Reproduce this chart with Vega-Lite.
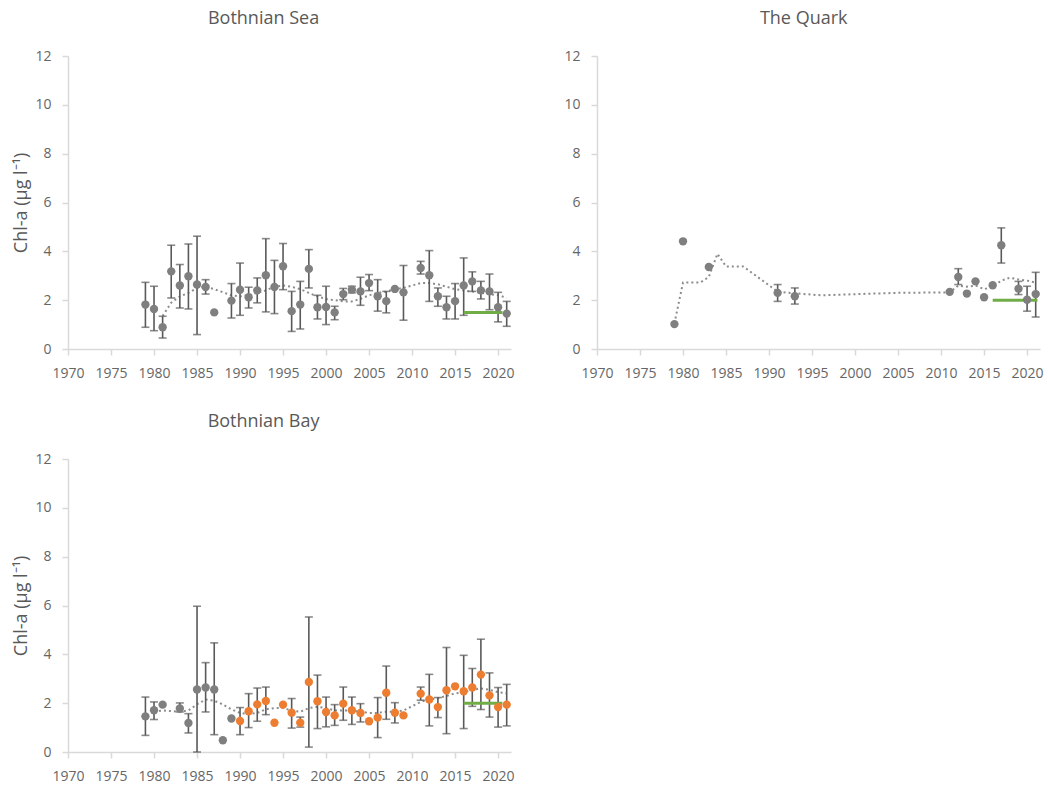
{
  "$schema": "https://vega.github.io/schema/vega-lite/v6.json",
  "padding": {"left": 12, "top": 10, "right": 5, "bottom": 5},
  "background": "white",
  "config": {
    "view": {"stroke": null},
    "font": "Open Sans",
    "axis": {"domainColor": "#d9d9d9", "domainWidth": 1.5, "tickColor": "#d9d9d9", "tickWidth": 1.5, "tickSize": 6, "labelColor": "#666666", "labelFont": "Open Sans", "labelFontSize": 14, "grid": false, "titleFont": "Open Sans", "titleFontSize": 18, "titleFontWeight": "normal", "titleColor": "#595959", "titlePadding": 4, "labelOverlap": false, "labelFlush": false},
    "axisX": {"labelPadding": 11},
    "axisY": {"labelPadding": 11},
    "title": {"font": "Open Sans", "fontSize": 18, "fontWeight": "normal", "color": "#595959", "anchor": "middle", "frame": "bounds", "offset": 21}
  },
  "datasets": {
    "pts": [
      {"area": "Bothnian Sea", "year": 1979, "chl": 1.82, "lo": 0.89, "hi": 2.73, "grp": "g"},
      {"area": "Bothnian Sea", "year": 1980, "chl": 1.64, "lo": 0.75, "hi": 2.57, "grp": "g"},
      {"area": "Bothnian Sea", "year": 1981, "chl": 0.89, "lo": 0.45, "hi": 1.34, "grp": "g"},
      {"area": "Bothnian Sea", "year": 1982, "chl": 3.18, "lo": 2.09, "hi": 4.25, "grp": "g"},
      {"area": "Bothnian Sea", "year": 1983, "chl": 2.6, "lo": 1.68, "hi": 3.46, "grp": "g"},
      {"area": "Bothnian Sea", "year": 1984, "chl": 2.98, "lo": 1.64, "hi": 4.3, "grp": "g"},
      {"area": "Bothnian Sea", "year": 1985, "chl": 2.64, "lo": 0.59, "hi": 4.62, "grp": "g"},
      {"area": "Bothnian Sea", "year": 1986, "chl": 2.54, "lo": 2.25, "hi": 2.84, "grp": "g"},
      {"area": "Bothnian Sea", "year": 1987, "chl": 1.5, "lo": null, "hi": null, "grp": "g"},
      {"area": "Bothnian Sea", "year": 1989, "chl": 1.98, "lo": 1.27, "hi": 2.68, "grp": "g"},
      {"area": "Bothnian Sea", "year": 1990, "chl": 2.43, "lo": 1.38, "hi": 3.52, "grp": "g"},
      {"area": "Bothnian Sea", "year": 1991, "chl": 2.12, "lo": 1.68, "hi": 2.53, "grp": "g"},
      {"area": "Bothnian Sea", "year": 1992, "chl": 2.4, "lo": 1.89, "hi": 2.91, "grp": "g"},
      {"area": "Bothnian Sea", "year": 1993, "chl": 3.02, "lo": 1.52, "hi": 4.52, "grp": "g"},
      {"area": "Bothnian Sea", "year": 1994, "chl": 2.54, "lo": 1.45, "hi": 3.63, "grp": "g"},
      {"area": "Bothnian Sea", "year": 1995, "chl": 3.39, "lo": 2.43, "hi": 4.32, "grp": "g"},
      {"area": "Bothnian Sea", "year": 1996, "chl": 1.55, "lo": 0.72, "hi": 2.36, "grp": "g"},
      {"area": "Bothnian Sea", "year": 1997, "chl": 1.82, "lo": 0.82, "hi": 2.77, "grp": "g"},
      {"area": "Bothnian Sea", "year": 1998, "chl": 3.28, "lo": 2.5, "hi": 4.07, "grp": "g"},
      {"area": "Bothnian Sea", "year": 1999, "chl": 1.71, "lo": 1.23, "hi": 2.2, "grp": "g"},
      {"area": "Bothnian Sea", "year": 2000, "chl": 1.72, "lo": 1.0, "hi": 2.57, "grp": "g"},
      {"area": "Bothnian Sea", "year": 2001, "chl": 1.5, "lo": 1.2, "hi": 1.75, "grp": "g"},
      {"area": "Bothnian Sea", "year": 2002, "chl": 2.25, "lo": 2.02, "hi": 2.48, "grp": "g"},
      {"area": "Bothnian Sea", "year": 2003, "chl": 2.43, "lo": 2.3, "hi": 2.57, "grp": "g"},
      {"area": "Bothnian Sea", "year": 2004, "chl": 2.36, "lo": 1.79, "hi": 2.94, "grp": "g"},
      {"area": "Bothnian Sea", "year": 2005, "chl": 2.7, "lo": 2.39, "hi": 3.05, "grp": "g"},
      {"area": "Bothnian Sea", "year": 2006, "chl": 2.16, "lo": 1.55, "hi": 2.84, "grp": "g"},
      {"area": "Bothnian Sea", "year": 2007, "chl": 1.96, "lo": 1.48, "hi": 2.36, "grp": "g"},
      {"area": "Bothnian Sea", "year": 2008, "chl": 2.46, "lo": null, "hi": null, "grp": "g"},
      {"area": "Bothnian Sea", "year": 2009, "chl": 2.32, "lo": 1.18, "hi": 3.42, "grp": "g"},
      {"area": "Bothnian Sea", "year": 2011, "chl": 3.32, "lo": 3.07, "hi": 3.59, "grp": "g"},
      {"area": "Bothnian Sea", "year": 2012, "chl": 3.02, "lo": 1.95, "hi": 4.03, "grp": "g"},
      {"area": "Bothnian Sea", "year": 2013, "chl": 2.16, "lo": 1.75, "hi": 2.5, "grp": "g"},
      {"area": "Bothnian Sea", "year": 2014, "chl": 1.71, "lo": 1.23, "hi": 2.16, "grp": "g"},
      {"area": "Bothnian Sea", "year": 2015, "chl": 1.96, "lo": 1.23, "hi": 2.68, "grp": "g"},
      {"area": "Bothnian Sea", "year": 2016, "chl": 2.6, "lo": 1.38, "hi": 3.73, "grp": "g"},
      {"area": "Bothnian Sea", "year": 2017, "chl": 2.77, "lo": 2.36, "hi": 3.16, "grp": "g"},
      {"area": "Bothnian Sea", "year": 2018, "chl": 2.4, "lo": 2.05, "hi": 2.77, "grp": "g"},
      {"area": "Bothnian Sea", "year": 2019, "chl": 2.36, "lo": 1.61, "hi": 3.07, "grp": "g"},
      {"area": "Bothnian Sea", "year": 2020, "chl": 1.71, "lo": 1.11, "hi": 2.32, "grp": "g"},
      {"area": "Bothnian Sea", "year": 2021, "chl": 1.45, "lo": 0.93, "hi": 1.95, "grp": "g"},

      {"area": "The Quark", "year": 1979, "chl": 1.02, "lo": null, "hi": null, "grp": "g"},
      {"area": "The Quark", "year": 1980, "chl": 4.41, "lo": null, "hi": null, "grp": "g"},
      {"area": "The Quark", "year": 1983, "chl": 3.36, "lo": null, "hi": null, "grp": "g"},
      {"area": "The Quark", "year": 1991, "chl": 2.3, "lo": 1.95, "hi": 2.64, "grp": "g"},
      {"area": "The Quark", "year": 1993, "chl": 2.16, "lo": 1.84, "hi": 2.5, "grp": "g"},
      {"area": "The Quark", "year": 2011, "chl": 2.34, "lo": null, "hi": null, "grp": "g"},
      {"area": "The Quark", "year": 2012, "chl": 2.95, "lo": 2.64, "hi": 3.29, "grp": "g"},
      {"area": "The Quark", "year": 2013, "chl": 2.27, "lo": null, "hi": null, "grp": "g"},
      {"area": "The Quark", "year": 2014, "chl": 2.77, "lo": null, "hi": null, "grp": "g"},
      {"area": "The Quark", "year": 2015, "chl": 2.12, "lo": null, "hi": null, "grp": "g"},
      {"area": "The Quark", "year": 2016, "chl": 2.61, "lo": null, "hi": null, "grp": "g"},
      {"area": "The Quark", "year": 2017, "chl": 4.25, "lo": 3.52, "hi": 4.96, "grp": "g"},
      {"area": "The Quark", "year": 2019, "chl": 2.47, "lo": 2.23, "hi": 2.77, "grp": "g"},
      {"area": "The Quark", "year": 2020, "chl": 2.02, "lo": 1.55, "hi": 2.57, "grp": "g"},
      {"area": "The Quark", "year": 2021, "chl": 2.25, "lo": 1.31, "hi": 3.14, "grp": "g"},

      {"area": "Bothnian Bay", "year": 1979, "chl": 1.46, "lo": 0.68, "hi": 2.25, "grp": "g"},
      {"area": "Bothnian Bay", "year": 1980, "chl": 1.71, "lo": 1.33, "hi": 2.05, "grp": "g"},
      {"area": "Bothnian Bay", "year": 1981, "chl": 1.94, "lo": null, "hi": null, "grp": "g"},
      {"area": "Bothnian Bay", "year": 1983, "chl": 1.78, "lo": 1.64, "hi": 2.01, "grp": "g"},
      {"area": "Bothnian Bay", "year": 1984, "chl": 1.19, "lo": 0.78, "hi": 1.57, "grp": "g"},
      {"area": "Bothnian Bay", "year": 1985, "chl": 2.56, "lo": 0.0, "hi": 5.97, "grp": "g"},
      {"area": "Bothnian Bay", "year": 1986, "chl": 2.64, "lo": 1.64, "hi": 3.66, "grp": "g"},
      {"area": "Bothnian Bay", "year": 1987, "chl": 2.56, "lo": 0.71, "hi": 4.47, "grp": "g"},
      {"area": "Bothnian Bay", "year": 1988, "chl": 0.48, "lo": null, "hi": null, "grp": "g"},
      {"area": "Bothnian Bay", "year": 1989, "chl": 1.37, "lo": null, "hi": null, "grp": "g"},
      {"area": "Bothnian Bay", "year": 1990, "chl": 1.27, "lo": 0.71, "hi": 1.82, "grp": "o"},
      {"area": "Bothnian Bay", "year": 1991, "chl": 1.67, "lo": 1.0, "hi": 2.39, "grp": "o"},
      {"area": "Bothnian Bay", "year": 1992, "chl": 1.95, "lo": 1.26, "hi": 2.62, "grp": "o"},
      {"area": "Bothnian Bay", "year": 1993, "chl": 2.09, "lo": 1.53, "hi": 2.66, "grp": "o"},
      {"area": "Bothnian Bay", "year": 1994, "chl": 1.2, "lo": null, "hi": null, "grp": "o"},
      {"area": "Bothnian Bay", "year": 1995, "chl": 1.94, "lo": null, "hi": null, "grp": "o"},
      {"area": "Bothnian Bay", "year": 1996, "chl": 1.61, "lo": 0.98, "hi": 2.19, "grp": "o"},
      {"area": "Bothnian Bay", "year": 1997, "chl": 1.2, "lo": 1.02, "hi": 1.43, "grp": "o"},
      {"area": "Bothnian Bay", "year": 1998, "chl": 2.87, "lo": 0.2, "hi": 5.53, "grp": "o"},
      {"area": "Bothnian Bay", "year": 1999, "chl": 2.08, "lo": 0.96, "hi": 3.15, "grp": "o"},
      {"area": "Bothnian Bay", "year": 2000, "chl": 1.64, "lo": 1.03, "hi": 2.25, "grp": "o"},
      {"area": "Bothnian Bay", "year": 2001, "chl": 1.5, "lo": 1.09, "hi": 1.94, "grp": "o"},
      {"area": "Bothnian Bay", "year": 2002, "chl": 1.98, "lo": 1.3, "hi": 2.66, "grp": "o"},
      {"area": "Bothnian Bay", "year": 2003, "chl": 1.71, "lo": 1.13, "hi": 2.25, "grp": "o"},
      {"area": "Bothnian Bay", "year": 2004, "chl": 1.6, "lo": 1.23, "hi": 1.98, "grp": "o"},
      {"area": "Bothnian Bay", "year": 2005, "chl": 1.26, "lo": null, "hi": null, "grp": "o"},
      {"area": "Bothnian Bay", "year": 2006, "chl": 1.41, "lo": 0.59, "hi": 2.23, "grp": "o"},
      {"area": "Bothnian Bay", "year": 2007, "chl": 2.43, "lo": 1.34, "hi": 3.52, "grp": "o"},
      {"area": "Bothnian Bay", "year": 2008, "chl": 1.61, "lo": 1.19, "hi": 2.02, "grp": "o"},
      {"area": "Bothnian Bay", "year": 2009, "chl": 1.5, "lo": null, "hi": null, "grp": "o"},
      {"area": "Bothnian Bay", "year": 2011, "chl": 2.39, "lo": 2.12, "hi": 2.66, "grp": "o"},
      {"area": "Bothnian Bay", "year": 2012, "chl": 2.15, "lo": 1.07, "hi": 3.18, "grp": "o"},
      {"area": "Bothnian Bay", "year": 2013, "chl": 1.84, "lo": 1.41, "hi": 2.23, "grp": "o"},
      {"area": "Bothnian Bay", "year": 2014, "chl": 2.53, "lo": 0.75, "hi": 4.28, "grp": "o"},
      {"area": "Bothnian Bay", "year": 2015, "chl": 2.69, "lo": null, "hi": null, "grp": "o"},
      {"area": "Bothnian Bay", "year": 2016, "chl": 2.49, "lo": 0.96, "hi": 3.96, "grp": "o"},
      {"area": "Bothnian Bay", "year": 2017, "chl": 2.64, "lo": 1.87, "hi": 3.42, "grp": "o"},
      {"area": "Bothnian Bay", "year": 2018, "chl": 3.17, "lo": 1.74, "hi": 4.62, "grp": "o"},
      {"area": "Bothnian Bay", "year": 2019, "chl": 2.32, "lo": 1.43, "hi": 3.24, "grp": "o"},
      {"area": "Bothnian Bay", "year": 2020, "chl": 1.84, "lo": 1.02, "hi": 2.64, "grp": "o"},
      {"area": "Bothnian Bay", "year": 2021, "chl": 1.94, "lo": 1.07, "hi": 2.77, "grp": "o"}
    ],
    "trend": [
      {"area": "Bothnian Sea", "year": 1981, "chl": 1.35},
      {"area": "Bothnian Sea", "year": 1982, "chl": 1.9},
      {"area": "Bothnian Sea", "year": 1983, "chl": 2.15},
      {"area": "Bothnian Sea", "year": 1984, "chl": 2.3},
      {"area": "Bothnian Sea", "year": 1985, "chl": 2.5},
      {"area": "Bothnian Sea", "year": 1986, "chl": 2.55},
      {"area": "Bothnian Sea", "year": 1987, "chl": 2.45},
      {"area": "Bothnian Sea", "year": 1989, "chl": 2.2},
      {"area": "Bothnian Sea", "year": 1990, "chl": 2.15},
      {"area": "Bothnian Sea", "year": 1991, "chl": 2.2},
      {"area": "Bothnian Sea", "year": 1992, "chl": 2.3},
      {"area": "Bothnian Sea", "year": 1993, "chl": 2.4},
      {"area": "Bothnian Sea", "year": 1994, "chl": 2.55},
      {"area": "Bothnian Sea", "year": 1995, "chl": 2.6},
      {"area": "Bothnian Sea", "year": 1996, "chl": 2.55},
      {"area": "Bothnian Sea", "year": 1997, "chl": 2.45},
      {"area": "Bothnian Sea", "year": 1998, "chl": 2.3},
      {"area": "Bothnian Sea", "year": 1999, "chl": 2.15},
      {"area": "Bothnian Sea", "year": 2000, "chl": 2.05},
      {"area": "Bothnian Sea", "year": 2001, "chl": 2.0},
      {"area": "Bothnian Sea", "year": 2002, "chl": 1.95},
      {"area": "Bothnian Sea", "year": 2003, "chl": 1.95},
      {"area": "Bothnian Sea", "year": 2004, "chl": 2.05},
      {"area": "Bothnian Sea", "year": 2005, "chl": 2.2},
      {"area": "Bothnian Sea", "year": 2006, "chl": 2.3},
      {"area": "Bothnian Sea", "year": 2007, "chl": 2.35},
      {"area": "Bothnian Sea", "year": 2008, "chl": 2.45},
      {"area": "Bothnian Sea", "year": 2009, "chl": 2.5},
      {"area": "Bothnian Sea", "year": 2011, "chl": 2.7},
      {"area": "Bothnian Sea", "year": 2012, "chl": 2.7},
      {"area": "Bothnian Sea", "year": 2013, "chl": 2.65},
      {"area": "Bothnian Sea", "year": 2014, "chl": 2.55},
      {"area": "Bothnian Sea", "year": 2015, "chl": 2.45},
      {"area": "Bothnian Sea", "year": 2016, "chl": 2.4},
      {"area": "Bothnian Sea", "year": 2017, "chl": 2.35},
      {"area": "Bothnian Sea", "year": 2018, "chl": 2.3},
      {"area": "Bothnian Sea", "year": 2019, "chl": 2.25},
      {"area": "Bothnian Sea", "year": 2020, "chl": 2.2},
      {"area": "Bothnian Sea", "year": 2021, "chl": 2.1},

      {"area": "The Quark", "year": 1979, "chl": 1.05},
      {"area": "The Quark", "year": 1980, "chl": 2.72},
      {"area": "The Quark", "year": 1982, "chl": 2.72},
      {"area": "The Quark", "year": 1983, "chl": 2.95},
      {"area": "The Quark", "year": 1984, "chl": 3.9},
      {"area": "The Quark", "year": 1985, "chl": 3.38},
      {"area": "The Quark", "year": 1987, "chl": 3.38},
      {"area": "The Quark", "year": 1991, "chl": 2.35},
      {"area": "The Quark", "year": 1993, "chl": 2.28},
      {"area": "The Quark", "year": 1996, "chl": 2.2},
      {"area": "The Quark", "year": 2005, "chl": 2.3},
      {"area": "The Quark", "year": 2011, "chl": 2.32},
      {"area": "The Quark", "year": 2012, "chl": 2.6},
      {"area": "The Quark", "year": 2013, "chl": 2.55},
      {"area": "The Quark", "year": 2014, "chl": 2.6},
      {"area": "The Quark", "year": 2015, "chl": 2.45},
      {"area": "The Quark", "year": 2016, "chl": 2.55},
      {"area": "The Quark", "year": 2017, "chl": 2.8},
      {"area": "The Quark", "year": 2018, "chl": 2.92},
      {"area": "The Quark", "year": 2019, "chl": 2.85},
      {"area": "The Quark", "year": 2020, "chl": 2.8},
      {"area": "The Quark", "year": 2021, "chl": 2.72},

      {"area": "Bothnian Bay", "year": 1980, "chl": 1.65},
      {"area": "Bothnian Bay", "year": 1981, "chl": 1.7},
      {"area": "Bothnian Bay", "year": 1983, "chl": 1.65},
      {"area": "Bothnian Bay", "year": 1984, "chl": 1.7},
      {"area": "Bothnian Bay", "year": 1985, "chl": 1.95},
      {"area": "Bothnian Bay", "year": 1986, "chl": 2.15},
      {"area": "Bothnian Bay", "year": 1987, "chl": 2.1},
      {"area": "Bothnian Bay", "year": 1988, "chl": 1.95},
      {"area": "Bothnian Bay", "year": 1989, "chl": 1.75},
      {"area": "Bothnian Bay", "year": 1990, "chl": 1.6},
      {"area": "Bothnian Bay", "year": 1991, "chl": 1.55},
      {"area": "Bothnian Bay", "year": 1992, "chl": 1.6},
      {"area": "Bothnian Bay", "year": 1993, "chl": 1.75},
      {"area": "Bothnian Bay", "year": 1994, "chl": 1.8},
      {"area": "Bothnian Bay", "year": 1995, "chl": 1.8},
      {"area": "Bothnian Bay", "year": 1996, "chl": 1.7},
      {"area": "Bothnian Bay", "year": 1997, "chl": 1.65},
      {"area": "Bothnian Bay", "year": 1998, "chl": 1.8},
      {"area": "Bothnian Bay", "year": 1999, "chl": 1.85},
      {"area": "Bothnian Bay", "year": 2000, "chl": 1.8},
      {"area": "Bothnian Bay", "year": 2001, "chl": 1.7},
      {"area": "Bothnian Bay", "year": 2002, "chl": 1.7},
      {"area": "Bothnian Bay", "year": 2003, "chl": 1.7},
      {"area": "Bothnian Bay", "year": 2004, "chl": 1.65},
      {"area": "Bothnian Bay", "year": 2005, "chl": 1.6},
      {"area": "Bothnian Bay", "year": 2006, "chl": 1.6},
      {"area": "Bothnian Bay", "year": 2007, "chl": 1.65},
      {"area": "Bothnian Bay", "year": 2008, "chl": 1.65},
      {"area": "Bothnian Bay", "year": 2009, "chl": 1.7},
      {"area": "Bothnian Bay", "year": 2011, "chl": 2.05},
      {"area": "Bothnian Bay", "year": 2012, "chl": 2.15},
      {"area": "Bothnian Bay", "year": 2013, "chl": 2.2},
      {"area": "Bothnian Bay", "year": 2014, "chl": 2.3},
      {"area": "Bothnian Bay", "year": 2015, "chl": 2.4},
      {"area": "Bothnian Bay", "year": 2016, "chl": 2.45},
      {"area": "Bothnian Bay", "year": 2017, "chl": 2.55},
      {"area": "Bothnian Bay", "year": 2018, "chl": 2.6},
      {"area": "Bothnian Bay", "year": 2019, "chl": 2.55},
      {"area": "Bothnian Bay", "year": 2020, "chl": 2.45},
      {"area": "Bothnian Bay", "year": 2021, "chl": 2.4}
    ],
    "target": [
      {"area": "Bothnian Sea", "year": 2016, "chl": 1.5},
      {"area": "Bothnian Sea", "year": 2020.5, "chl": 1.5},
      {"area": "The Quark", "year": 2016, "chl": 2.0},
      {"area": "The Quark", "year": 2021.2, "chl": 2.0},
      {"area": "Bothnian Bay", "year": 2016, "chl": 2.0},
      {"area": "Bothnian Bay", "year": 2020.5, "chl": 2.0}
    ]
  },
  "columns": 2,
  "spacing": {"row": 33, "column": 48},
  "concat": [
    {
      "title": "Bothnian Sea",
      "width": 443, "height": 293,
      "layer": [
        {"data": {"name": "trend"}, "transform": [{"filter": "datum.area == 'Bothnian Sea'"}],
         "mark": {"type": "line", "strokeDash": [2, 3], "color": "#8c8c8c", "strokeWidth": 2},
         "encoding": {
           "x": {"field": "year", "type": "quantitative", "scale": {"domain": [1970, 2021.5], "nice": false, "zero": false}, "axis": {"values": [1970,1975,1980,1985,1990,1995,2000,2005,2010,2015,2020], "format": "d", "title": null}},
           "y": {"field": "chl", "type": "quantitative", "scale": {"domain": [0, 12], "nice": false}, "axis": {"values": [0,2,4,6,8,10,12], "title": "Chl-a (µg l⁻¹)"}}}},
        {"data": {"name": "pts"}, "transform": [{"filter": "datum.area == 'Bothnian Sea' && isValid(datum.lo)"}],
         "mark": {"type": "rule", "color": "#595959", "strokeWidth": 1.6},
         "encoding": {"x": {"field": "year", "type": "quantitative"}, "y": {"field": "lo", "type": "quantitative", "axis": {"title": "Chl-a (µg l⁻¹)"}}, "y2": {"field": "hi"}}},
        {"data": {"name": "pts"}, "transform": [{"filter": "datum.area == 'Bothnian Sea' && isValid(datum.lo)"}],
         "mark": {"type": "tick", "orient": "horizontal", "size": 8, "thickness": 1.6, "color": "#595959"},
         "encoding": {"x": {"field": "year", "type": "quantitative"}, "y": {"field": "lo", "type": "quantitative", "axis": {"title": "Chl-a (µg l⁻¹)"}}}},
        {"data": {"name": "pts"}, "transform": [{"filter": "datum.area == 'Bothnian Sea' && isValid(datum.hi)"}],
         "mark": {"type": "tick", "orient": "horizontal", "size": 8, "thickness": 1.6, "color": "#595959"},
         "encoding": {"x": {"field": "year", "type": "quantitative"}, "y": {"field": "hi", "type": "quantitative", "axis": {"title": "Chl-a (µg l⁻¹)"}}}},
        {"data": {"name": "target"}, "transform": [{"filter": "datum.area == 'Bothnian Sea'"}],
         "mark": {"type": "line", "color": "#70AD47", "strokeWidth": 3},
         "encoding": {"x": {"field": "year", "type": "quantitative"}, "y": {"field": "chl", "type": "quantitative", "axis": {"title": "Chl-a (µg l⁻¹)"}}}},
        {"data": {"name": "pts"}, "transform": [{"filter": "datum.area == 'Bothnian Sea'"}],
         "mark": {"type": "circle", "size": 70, "opacity": 1},
         "encoding": {"x": {"field": "year", "type": "quantitative"}, "y": {"field": "chl", "type": "quantitative", "axis": {"title": "Chl-a (µg l⁻¹)"}},
           "color": {"field": "grp", "type": "nominal", "scale": {"domain": ["g", "o"], "range": ["#7f7f7f", "#ED7D31"]}, "legend": null}}}
      ]
    },
    {
      "title": "The Quark",
      "width": 443, "height": 293,
      "layer": [
        {"data": {"name": "trend"}, "transform": [{"filter": "datum.area == 'The Quark'"}],
         "mark": {"type": "line", "strokeDash": [2, 3], "color": "#8c8c8c", "strokeWidth": 2},
         "encoding": {
           "x": {"field": "year", "type": "quantitative", "scale": {"domain": [1970, 2021.5], "nice": false, "zero": false}, "axis": {"values": [1970,1975,1980,1985,1990,1995,2000,2005,2010,2015,2020], "format": "d", "title": null}},
           "y": {"field": "chl", "type": "quantitative", "scale": {"domain": [0, 12], "nice": false}, "axis": {"values": [0,2,4,6,8,10,12], "title": null}}}},
        {"data": {"name": "pts"}, "transform": [{"filter": "datum.area == 'The Quark' && isValid(datum.lo)"}],
         "mark": {"type": "rule", "color": "#595959", "strokeWidth": 1.6},
         "encoding": {"x": {"field": "year", "type": "quantitative"}, "y": {"field": "lo", "type": "quantitative", "axis": {"title": null}}, "y2": {"field": "hi"}}},
        {"data": {"name": "pts"}, "transform": [{"filter": "datum.area == 'The Quark' && isValid(datum.lo)"}],
         "mark": {"type": "tick", "orient": "horizontal", "size": 8, "thickness": 1.6, "color": "#595959"},
         "encoding": {"x": {"field": "year", "type": "quantitative"}, "y": {"field": "lo", "type": "quantitative", "axis": {"title": null}}}},
        {"data": {"name": "pts"}, "transform": [{"filter": "datum.area == 'The Quark' && isValid(datum.hi)"}],
         "mark": {"type": "tick", "orient": "horizontal", "size": 8, "thickness": 1.6, "color": "#595959"},
         "encoding": {"x": {"field": "year", "type": "quantitative"}, "y": {"field": "hi", "type": "quantitative", "axis": {"title": null}}}},
        {"data": {"name": "target"}, "transform": [{"filter": "datum.area == 'The Quark'"}],
         "mark": {"type": "line", "color": "#70AD47", "strokeWidth": 3},
         "encoding": {"x": {"field": "year", "type": "quantitative"}, "y": {"field": "chl", "type": "quantitative", "axis": {"title": null}}}},
        {"data": {"name": "pts"}, "transform": [{"filter": "datum.area == 'The Quark'"}],
         "mark": {"type": "circle", "size": 70, "opacity": 1},
         "encoding": {"x": {"field": "year", "type": "quantitative"}, "y": {"field": "chl", "type": "quantitative", "axis": {"title": null}},
           "color": {"field": "grp", "type": "nominal", "scale": {"domain": ["g", "o"], "range": ["#7f7f7f", "#ED7D31"]}, "legend": null}}}
      ]
    },
    {
      "title": "Bothnian Bay",
      "width": 443, "height": 293,
      "layer": [
        {"data": {"name": "trend"}, "transform": [{"filter": "datum.area == 'Bothnian Bay'"}],
         "mark": {"type": "line", "strokeDash": [2, 3], "color": "#8c8c8c", "strokeWidth": 2},
         "encoding": {
           "x": {"field": "year", "type": "quantitative", "scale": {"domain": [1970, 2021.5], "nice": false, "zero": false}, "axis": {"values": [1970,1975,1980,1985,1990,1995,2000,2005,2010,2015,2020], "format": "d", "title": null}},
           "y": {"field": "chl", "type": "quantitative", "scale": {"domain": [0, 12], "nice": false}, "axis": {"values": [0,2,4,6,8,10,12], "title": "Chl-a (µg l⁻¹)"}}}},
        {"data": {"name": "pts"}, "transform": [{"filter": "datum.area == 'Bothnian Bay' && isValid(datum.lo)"}],
         "mark": {"type": "rule", "color": "#595959", "strokeWidth": 1.6},
         "encoding": {"x": {"field": "year", "type": "quantitative"}, "y": {"field": "lo", "type": "quantitative", "axis": {"title": "Chl-a (µg l⁻¹)"}}, "y2": {"field": "hi"}}},
        {"data": {"name": "pts"}, "transform": [{"filter": "datum.area == 'Bothnian Bay' && isValid(datum.lo)"}],
         "mark": {"type": "tick", "orient": "horizontal", "size": 8, "thickness": 1.6, "color": "#595959"},
         "encoding": {"x": {"field": "year", "type": "quantitative"}, "y": {"field": "lo", "type": "quantitative", "axis": {"title": "Chl-a (µg l⁻¹)"}}}},
        {"data": {"name": "pts"}, "transform": [{"filter": "datum.area == 'Bothnian Bay' && isValid(datum.hi)"}],
         "mark": {"type": "tick", "orient": "horizontal", "size": 8, "thickness": 1.6, "color": "#595959"},
         "encoding": {"x": {"field": "year", "type": "quantitative"}, "y": {"field": "hi", "type": "quantitative", "axis": {"title": "Chl-a (µg l⁻¹)"}}}},
        {"data": {"name": "target"}, "transform": [{"filter": "datum.area == 'Bothnian Bay'"}],
         "mark": {"type": "line", "color": "#70AD47", "strokeWidth": 3},
         "encoding": {"x": {"field": "year", "type": "quantitative"}, "y": {"field": "chl", "type": "quantitative", "axis": {"title": "Chl-a (µg l⁻¹)"}}}},
        {"data": {"name": "pts"}, "transform": [{"filter": "datum.area == 'Bothnian Bay'"}],
         "mark": {"type": "circle", "size": 70, "opacity": 1},
         "encoding": {"x": {"field": "year", "type": "quantitative"}, "y": {"field": "chl", "type": "quantitative", "axis": {"title": "Chl-a (µg l⁻¹)"}},
           "color": {"field": "grp", "type": "nominal", "scale": {"domain": ["g", "o"], "range": ["#7f7f7f", "#ED7D31"]}, "legend": null}}}
      ]
    }
  ]
}
